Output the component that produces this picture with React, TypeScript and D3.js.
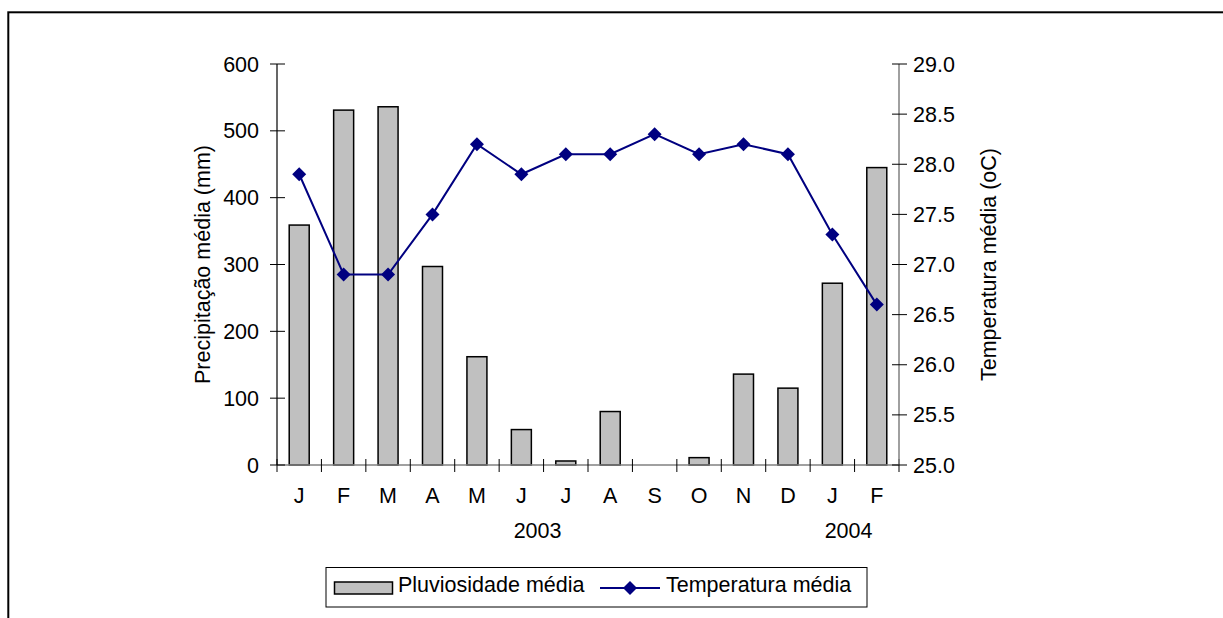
import React from "react";
import * as d3 from "d3";

const months = ["J", "F", "M", "A", "M", "J", "J", "A", "S", "O", "N", "D", "J", "F"];
const years = [
  { label: "2003", start: 0, end: 12 },
  { label: "2004", start: 12, end: 14 },
];
const rainfall = [359, 531, 536, 297, 162, 53, 6, 80, 0, 11, 136, 115, 272, 445];
const temperature = [27.9, 26.9, 26.9, 27.5, 28.2, 27.9, 28.1, 28.1, 28.3, 28.1, 28.2, 28.1, 27.3, 26.6];
const leftTicks = [0, 100, 200, 300, 400, 500, 600];
const rightTicks = [25.0, 25.5, 26.0, 26.5, 27.0, 27.5, 28.0, 28.5, 29.0];

const W = 1223;
const H = 618;
const FONT = "'Liberation Sans', Arial, sans-serif";
const FS = 21.5;

export default function App() {
  const x0 = 277, x1 = 899, yTop = 64, yBot = 465;
  const idx = months.map((_, i) => i);
  const xBand = d3.scaleBand<number>().domain(idx).range([x0, x1]).paddingInner(0).paddingOuter(0);
  const bw = xBand.bandwidth();
  const yL = d3.scaleLinear().domain([0, 600]).range([yBot, yTop]);
  const yR = d3.scaleLinear().domain([25, 29]).range([yBot, yTop]);
  const barW = bw * 0.45;
  const cx = (i: number) => (xBand(i) as number) + bw / 2;
  const line = d3.line<number>().x((_, i) => cx(i)).y((d) => yR(d));
  const diamond = (x: number, y: number, r = 7) =>
    `M${x},${y - r}L${x + r},${y}L${x},${y + r}L${x - r},${y}Z`;

  return (
    <svg width={W} height={H} style={{ position: "absolute", left: 0, top: 0, background: "#fff" }}
      fontFamily={FONT}>
      <rect x={0} y={0} width={W} height={H} fill="#fff" />
      {/* frame */}
      <rect x={8.3} y={12.3} width={1400} height={800} fill="none" stroke="#000" strokeWidth={2} />

      {/* bars */}
      {rainfall.map((v, i) => (
        v > 0 ? (
          <rect key={"b" + i} x={cx(i) - barW / 2} y={yL(v)} width={barW} height={yL(0) - yL(v)}
            fill="#c0c0c0" stroke="#000" strokeWidth={1.5} />
        ) : null
      ))}

      {/* x axis */}
      <line x1={x0} x2={x1} y1={yBot} y2={yBot} stroke="#808080" strokeWidth={1.5} />
      {d3.range(months.length + 1).map((i) => {
        const x = i < months.length ? (xBand(i) as number) : x1;
        return <line key={"xt" + i} x1={x} x2={x} y1={yBot - 6} y2={yBot + 7} stroke="#000" strokeWidth={1} />;
      })}
      {months.map((m, i) => (
        <text key={"m" + i} x={cx(i)} y={503} textAnchor="middle" fontSize={FS} fill="#000">{m}</text>
      ))}
      {years.map((g) => {
        const a = xBand(g.start) as number;
        const b = g.end < months.length ? (xBand(g.end) as number) : x1;
        return (
          <text key={g.label} x={(a + b) / 2 - 6} y={538} textAnchor="middle" fontSize={FS} fill="#000">{g.label}</text>
        );
      })}

      {/* left axis */}
      <line x1={x0} x2={x0} y1={yTop} y2={yBot} stroke="#000" strokeWidth={1.2} />
      {leftTicks.map((t) => (
        <g key={"l" + t}>
          <line x1={x0 - 7} x2={x0 + 8} y1={yL(t)} y2={yL(t)} stroke="#000" strokeWidth={1} />
          <text x={259} y={yL(t)} dy="0.35em" textAnchor="end" fontSize={FS} fill="#000">{t}</text>
        </g>
      ))}
      <text transform={`translate(210,${(yTop + yBot) / 2}) rotate(-90)`} textAnchor="middle" fontSize={FS} fill="#000">
        Precipitação média (mm)
      </text>

      {/* right axis */}
      <line x1={x1} x2={x1} y1={yTop} y2={yBot} stroke="#808080" strokeWidth={1.5} />
      {rightTicks.map((t) => (
        <g key={"r" + t}>
          <line x1={x1 - 7} x2={x1 + 8} y1={yR(t)} y2={yR(t)} stroke="#000" strokeWidth={1} />
          <text x={913} y={yR(t)} dy="0.35em" textAnchor="start" fontSize={FS} fill="#000">{t.toFixed(1)}</text>
        </g>
      ))}
      <text transform={`translate(996,${(yTop + yBot) / 2}) rotate(-90)`} textAnchor="middle" fontSize={FS} fill="#000">
        Temperatura média (oC)
      </text>

      {/* temperature line */}
      <path d={line(temperature) || ""} fill="none" stroke="#000080" strokeWidth={2} />
      {temperature.map((v, i) => (
        <path key={"d" + i} d={diamond(cx(i), yR(v))} fill="#000080" />
      ))}

      {/* legend */}
      <rect x={326} y={567.5} width={541} height={39.5} fill="#fff" stroke="#000" strokeWidth={1} />
      <rect x={334.5} y={582} width={58} height={12} fill="#c0c0c0" stroke="#000" strokeWidth={1.5} />
      <text x={398} y={592} fontSize={FS} fill="#000">Pluviosidade média</text>
      <line x1={600} x2={660} y1={588} y2={588} stroke="#000080" strokeWidth={2} />
      <path d={diamond(630, 588)} fill="#000080" />
      <text x={666} y={592} fontSize={FS} fill="#000">Temperatura média</text>
    </svg>
  );
}
